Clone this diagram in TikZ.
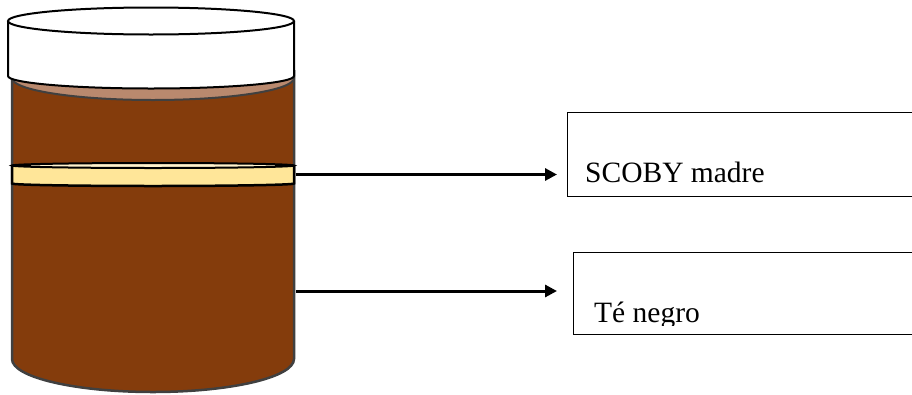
\documentclass[tikz,border=0pt]{standalone}
\usepackage{fontspec}
\setmainfont{Liberation Serif}
\usetikzlibrary{arrows.meta}
\definecolor{tea}{HTML}{843C0C}
\definecolor{teasurface}{HTML}{B9896E}
\definecolor{jaredge}{HTML}{404040}
\definecolor{scoby}{HTML}{FFE699}
\definecolor{scobytop}{HTML}{FFF2CC}
\tikzset{
  jarbody/.style={fill=tea, draw=jaredge, line width=2.5pt},
  surface/.style={fill=teasurface, draw=jaredge, line width=2pt},
  lid/.style={fill=white, draw=black, line width=2pt},
  layer/.style={fill=scoby, draw=black, line width=2.5pt},
  pointer/.style={line width=3pt, -{Triangle[length=12pt,width=12pt]}},
  labelbox/.style={draw=black, line width=1.4pt, anchor=north west, inner sep=0pt},
  labeltext/.style={anchor=base west, inner sep=0pt, font=\fontsize{29.5}{34}\selectfont}
}
\begin{document}
\begin{tikzpicture}[x=1pt, y=-1pt]
\clip (0,0) rectangle (912,394);
\fill[white] (0,0) rectangle (912,394);

% jar body with black tea (y axis points down, so arcs run 180 -> 0 to bulge downwards)
\draw[jarbody] (12,70) -- (12,359) arc[start angle=180, end angle=0, x radius=141, y radius=33] -- (294,70);
% liquid surface seen under the lid
\draw[surface] (153,78) ellipse[x radius=141, y radius=22];

% lid
\draw[lid] (8,21) -- (8,76) arc[start angle=180, end angle=0, x radius=143, y radius=12.5] -- (294,21);
\draw[lid] (151,21) ellipse[x radius=143, y radius=13.5];

% SCOBY layer floating in the tea
\draw[layer] (12,165.5) -- (12,183.5) arc[start angle=180, end angle=0, x radius=141, y radius=2.5] -- (294,165.5);
\draw[layer, fill=scobytop, line width=2pt] (153,165.5) ellipse[x radius=141, y radius=2.5];

% label boxes
\node[labelbox, minimum width=360pt, minimum height=84.5pt] (scobybox) at (567,111.5) {};
\node[labelbox, minimum width=360pt, minimum height=82pt] (teabox) at (573,252) {};

\node[labeltext] (scobylabel) at (585,182) {SCOBY madre};
\begin{scope}
  \clip (574,253) rectangle (912,325);
  \node[labeltext] (tealabel) at (594,322) {Té negro};
\end{scope}

% pointers from the jar to the labels
\coordinate (scobyedge) at (295.5,174.5);
\coordinate (teaedge) at (296,291);
\draw[pointer, shorten >=10pt] (scobyedge) -- (scobyedge -| scobybox.west);
\draw[pointer, shorten >=16pt] (teaedge) -- (teaedge -| teabox.west);
\end{tikzpicture}
\end{document}
